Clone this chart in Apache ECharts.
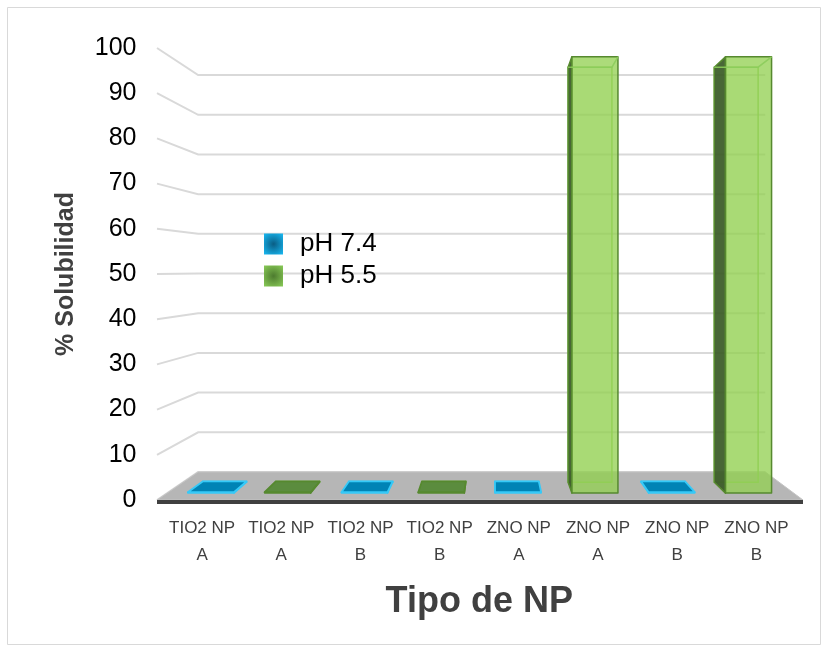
<!DOCTYPE html>
<html>
<head>
<meta charset="utf-8">
<script src="https://cdn.jsdelivr.net/npm/echarts@6/dist/echarts.min.js"></script>
<style>
  html, body { margin: 0; padding: 0; background: #ffffff; }
  #chart { width: 828px; height: 652px; }
</style>
</head>
<body>
<div id="chart"></div>
<script>
// ---- data ----
const categories = ['TIO2 NP\nA', 'TIO2 NP\nA', 'TIO2 NP\nB', 'TIO2 NP\nB',
                    'ZNO NP\nA', 'ZNO NP\nA', 'ZNO NP\nB', 'ZNO NP\nB'];
const seriesNames = ['pH 7.4', 'pH 5.5'];
const ph74 = [0.2, null, 0.2, null, 0.2, null, 0.2, null];
const ph55 = [null, 0.2, null, 0.2, null, 99.5, null, 99.5];
const yTicks = [0, 10, 20, 30, 40, 50, 60, 70, 80, 90, 100];
const yAxisTitle = '% Solubilidad';
const xAxisTitle = 'Tipo de NP';

// ---- pseudo-3D layout ----
const FONT = 'Liberation Sans, Arial, sans-serif';
const VP = [494, 270];                 // vanishing point of the perspective
const DEPTH = { wall: 0.878, barFront: 0.970, barBack: 0.923 };
const WALL_X = [157, 803];             // left / right edge of the front plane
const BAR_RATIO = 0.6;

function proj(p, f) {
  return [VP[0] + f * (p[0] - VP[0]), VP[1] + f * (p[1] - VP[1])];
}

const faces = {
  'pH 7.4': {
    front: '#0083b5', side: '#006a94', top: '#0083b5',
    edge: '#36c9f7', inner: '#36c9f7', back: 'rgba(0,131,181,0.25)',
    legend: { type: 'radial', x: 0.5, y: 0.5, r: 0.7,
      colorStops: [{ offset: 0, color: '#0a5d84' }, { offset: 1, color: '#17b5ee' }] }
  },
  'pH 5.5': {
    front: 'rgba(146,208,80,0.76)', side: 'rgba(58,90,38,0.92)', top: '#5b8c3e',
    edge: '#56892f', inner: 'rgba(140,204,92,0.9)', back: 'rgba(146,208,80,0.12)',
    legend: { type: 'radial', x: 0.5, y: 0.5, r: 0.7,
      colorStops: [{ offset: 0, color: '#4d7b2f' }, { offset: 1, color: '#86c755' }] }
  }
};

function barRenderer(name) {
  const c = faces[name];
  return function (params, api) {
    const idx = api.value(0);
    const v = api.value(1);
    const cs = params.coordSys;
    const half = cs.width / categories.length * BAR_RATIO / 2;
    const top = api.coord([idx, v]);
    const bot = api.coord([idx, 0]);
    const rect = [[top[0] - half, top[1]], [top[0] + half, top[1]],
                  [top[0] + half, bot[1]], [top[0] - half, bot[1]]];
    const F = rect.map(p => proj(p, DEPTH.barFront));
    const B = rect.map(p => proj(p, DEPTH.barBack));
    const children = [];
    // back face, seen through the translucent front
    children.push({ type: 'polygon', shape: { points: B },
      style: { fill: c.back, stroke: c.inner, lineWidth: 1.5 } });
    // visible side face
    if (B[0][0] < F[0][0]) {
      children.push({ type: 'polygon', shape: { points: [F[0], B[0], B[3], F[3]] },
        style: { fill: c.side, stroke: c.edge, lineWidth: 1.5, lineJoin: 'round' } });
    } else {
      children.push({ type: 'polygon', shape: { points: [F[1], B[1], B[2], F[2]] },
        style: { fill: c.side, stroke: c.edge, lineWidth: 1.5, lineJoin: 'round' } });
    }
    // front face
    children.push({ type: 'polygon', shape: { points: F },
      style: { fill: c.front, stroke: c.edge, lineWidth: 1.5, lineJoin: 'round' } });
    // top face, when it sits below eye level
    if (B[0][1] < F[0][1]) {
      children.push({ type: 'polygon', shape: { points: [F[0], F[1], B[1], B[0]] },
        style: { fill: c.top, stroke: c.edge, lineWidth: 1.8, lineJoin: 'round' } });
    } else {
      // top edges seen from below through the front face
      children.push({ type: 'polyline', shape: { points: [B[0], B[1], F[1]] },
        style: { stroke: c.inner, lineWidth: 1.5, fill: null } });
    }
    return { type: 'group', children };
  };
}

function toItems(arr) {
  const out = [];
  arr.forEach((v, i) => { if (v !== null) out.push([i, v]); });
  return out;
}

// gridlines on the back wall and the receding lines of the side wall
function wallRenderer(params, api) {
  const v = api.value(1);
  const p = api.coord([0, v]);
  const front = [WALL_X[0], p[1]];
  const backL = proj([WALL_X[0], p[1]], DEPTH.wall);
  const backR = proj([WALL_X[1], p[1]], DEPTH.wall);
  return { type: 'polyline', shape: { points: [front, backL, backR] },
    style: { stroke: '#d9d9d9', lineWidth: 2, fill: null } };
}

// floor slab under the columns
function floorRenderer(params, api) {
  const p = api.coord([0, 0]);
  const fl = [WALL_X[0], p[1]], fr = [WALL_X[1], p[1]];
  const bl = proj(fl, DEPTH.wall), br = proj(fr, DEPTH.wall);
  return { type: 'group', children: [
    { type: 'polygon', shape: { points: [fl, fr, br, bl] },
      style: { fill: '#b6b6b6', stroke: '#c4c4c4', lineWidth: 1 } },
    { type: 'polygon', shape: { points: [fl, fr, [fr[0], fr[1] + 4], [fl[0], fl[1] + 4]] },
      style: { fill: '#404040' } }
  ] };
}

const chart = echarts.init(document.getElementById('chart'), null, { renderer: 'canvas' });

chart.setOption({
  animation: false,
  backgroundColor: '#ffffff',
  graphic: [{
    type: 'rect', silent: true, z: -10,
    shape: { x: 7.5, y: 7.5, width: 813, height: 637 },
    style: { fill: null, stroke: '#d9d9d9', lineWidth: 1 }
  }],
  legend: {
    orient: 'vertical', left: 264, top: 231, padding: 0,
    itemWidth: 19, itemHeight: 21, itemGap: 6, icon: 'rect',
    data: seriesNames,
    textStyle: { fontFamily: FONT, fontSize: 26, color: '#000000', lineHeight: 24, padding: [0, 0, 0, 12] }
  },
  grid: { left: 162.5, right: 32, top: 48, bottom: 152 },
  xAxis: {
    type: 'category', data: categories,
    axisLine: { show: false }, axisTick: { show: false }, splitLine: { show: false },
    axisLabel: { interval: 0, fontFamily: FONT, fontSize: 17, color: '#404040', lineHeight: 27, margin: 15 },
    name: xAxisTitle, nameLocation: 'middle', nameGap: 84,
    nameTextStyle: { fontFamily: FONT, fontSize: 36, fontWeight: 'bold', color: '#404040' }
  },
  yAxis: {
    type: 'value', min: 0, max: 100, interval: 10,
    axisLine: { show: false }, axisTick: { show: false }, splitLine: { show: false },
    axisLabel: { fontFamily: FONT, fontSize: 25, color: '#000000', margin: 26 },
    name: yAxisTitle, nameLocation: 'middle', nameGap: 84, nameRotate: 90,
    nameTextStyle: { fontFamily: FONT, fontSize: 25, fontWeight: 'bold', color: '#404040' }
  },
  series: [
    { type: 'custom', name: '__wall', silent: true, z: 1, renderItem: wallRenderer,
      data: yTicks.map(t => [0, t]), encode: { x: 0, y: 1 } },
    { type: 'custom', name: '__floor', silent: true, z: 2, renderItem: floorRenderer,
      data: [[0, 0]], encode: { x: 0, y: 1 } },
    { type: 'custom', name: seriesNames[0], z: 3, renderItem: barRenderer(seriesNames[0]),
      itemStyle: { color: faces[seriesNames[0]].legend },
      data: toItems(ph74), encode: { x: 0, y: 1 } },
    { type: 'custom', name: seriesNames[1], z: 3, renderItem: barRenderer(seriesNames[1]),
      itemStyle: { color: faces[seriesNames[1]].legend },
      data: toItems(ph55), encode: { x: 0, y: 1 } }
  ]
});
</script>
</body>
</html>
